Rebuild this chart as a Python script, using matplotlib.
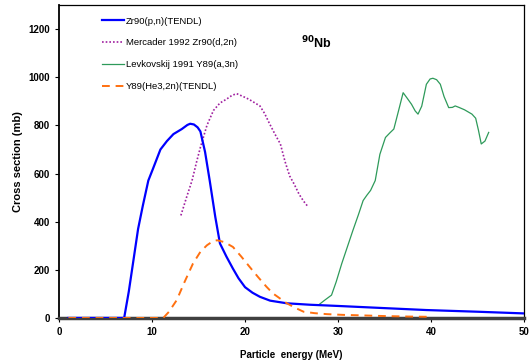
import matplotlib
matplotlib.use('Agg')
import matplotlib.pyplot as plt

plt.rcParams['font.family'] = ['Liberation Sans', 'DejaVu Sans']

# Zr90(p,n)(TENDL)
e_pn = [1, 7.0, 7.5, 8.0, 8.5, 9.0, 9.6, 10.1, 10.9, 11.6, 12.3, 13.2, 13.8, 14.1, 14.5, 14.9, 15.2,
        15.7, 16.2, 16.8, 17.3, 18.0, 18.7, 19.3, 20.0, 20.8, 21.6, 22.7, 24.5, 27.0, 30.0, 35.0,
        39.5, 45.0, 50.0]
s_pn = [0, 0, 110, 240, 370, 465, 571, 620, 700, 735, 764, 785, 802, 807, 804, 792, 775,
        690, 571, 420, 310, 255, 205, 165, 128, 105, 88, 72, 61, 55, 50, 41,
        33, 26, 19]

# Mercader 1992 Zr90(d,2n)
e_d2n = [13.1, 13.7, 14.3, 14.8, 15.2, 15.9, 16.6, 17.3, 18.0, 18.6, 19.1, 19.8, 20.4, 21.0, 21.6,
         22.1, 22.6, 23.2, 23.8, 24.3, 24.8, 25.3, 25.8, 26.3, 26.8]
s_d2n = [426, 500, 571, 650, 709, 800, 862, 893, 909, 925, 932, 920, 909, 895, 881,
         850, 810, 765, 723, 650, 590, 555, 515, 485, 461]

# Levkovskij 1991 Y89(a,3n)
e_a3n = [27.9, 28.6, 29.3, 29.8, 30.4, 31.0, 31.6, 32.2, 32.7, 33.1, 33.5, 34.0, 34.5, 35.1, 35.6,
         36.0, 36.5, 37.0, 37.4, 37.9, 38.3, 38.6, 39.0, 39.5, 39.9, 40.2, 40.6, 41.0, 41.4, 41.9,
         42.3, 42.6, 43.0, 43.6, 44.4, 44.8, 45.1, 45.4, 45.8, 46.2]
s_a3n = [54, 75, 95, 150, 226, 295, 364, 430, 488, 510, 530, 571, 680, 750, 770,
         785, 860, 936, 915, 888, 860, 847, 880, 971, 993, 996, 990, 971, 920, 874,
         875, 881, 875, 865, 847, 830, 780, 723, 735, 771]

# Y89(He3,2n)(TENDL)
e_he3 = [1, 11.2, 11.8, 12.65, 13.5, 14.4, 15.2, 15.9, 16.5, 17.0, 17.8, 18.7, 19.6, 20.5, 21.4,
         22.3, 23.0, 23.8, 24.5, 25.4, 26.3, 27.5, 28.8, 30.5, 32.4, 35.0, 37.5, 39.5, 40.0]
s_he3 = [0, 0, 25, 74, 150, 226, 275, 302, 318, 323, 315, 295, 255, 212, 170,
         130, 102, 80, 61, 42, 26, 20, 16, 13, 11, 8, 6, 5, 5]

fig = plt.figure(figsize=(5.32, 3.63), dpi=100)
ax = fig.add_axes([0.111, 0.124, 0.874, 0.862])

ax.plot(e_pn, s_pn, color='#0000ff', lw=1.6, label='Zr90(p,n)(TENDL)', zorder=3)
ax.plot(e_d2n, s_d2n, color='#a020a0', lw=1.2, ls=(0, (1, 1.2)), label='Mercader 1992 Zr90(d,2n)')
ax.plot(e_a3n, s_a3n, color='#2e9a5a', lw=0.9, label='Levkovskij 1991 Y89(a,3n)')
ax.plot(e_he3, s_he3, color='#ff7010', lw=1.4, ls=(0, (4, 3)), label='Y89(He3,2n)(TENDL)', zorder=4)

ax.set_xlim(0, 50)
ax.set_ylim(0, 1300)
ax.set_xticks(range(0, 51, 10))
ax.set_yticks(range(0, 1201, 200))
ax.tick_params(labelsize=7, length=3, width=0.8, direction='out')
for lab in ax.get_xticklabels() + ax.get_yticklabels():
    lab.set_fontweight('bold')

for side in ['top', 'right']:
    ax.spines[side].set_linewidth(0.9)
ax.spines['left'].set_linewidth(1.3)
ax.spines['bottom'].set_linewidth(2.5)
ax.spines['bottom'].set_color('#404040')

ax.set_xlabel('Particle  energy (MeV)', fontsize=7, fontweight='bold', labelpad=9)
ax.set_ylabel('Cross section (mb)', fontsize=8, fontweight='bold', labelpad=4)

ax.text(0.52, 0.88, r'$^{\mathbf{90}}$Nb', transform=ax.transAxes, fontsize=9,
        fontweight='bold', ha='left', va='center')

ax.legend(loc='upper left', bbox_to_anchor=(0.075, 0.99), frameon=False, fontsize=6.8,
          handlelength=2.3, handletextpad=0.2, labelspacing=1.35)

fig.savefig('out.png', dpi=100)
